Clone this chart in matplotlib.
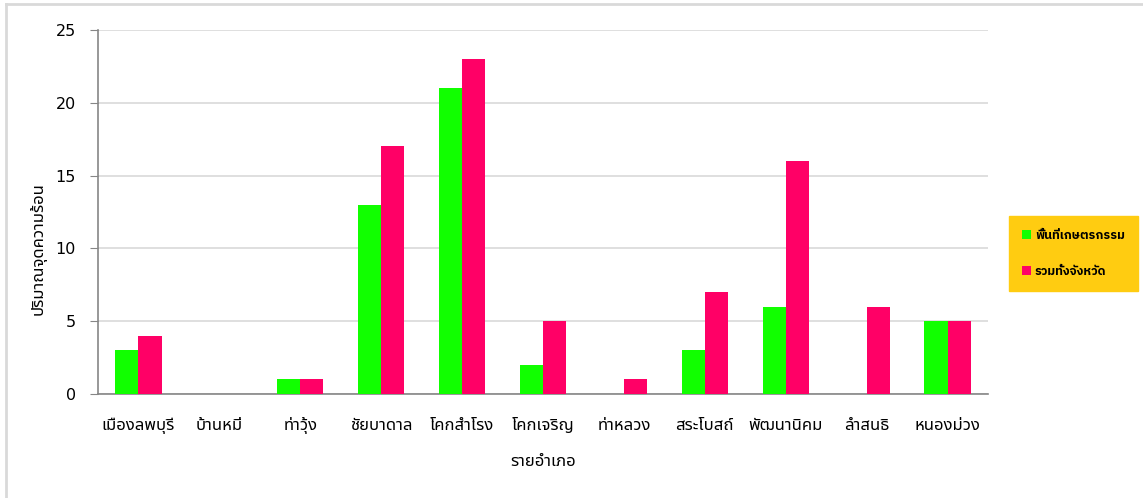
import matplotlib
matplotlib.use("Agg")
import matplotlib.pyplot as plt
import numpy as np
from matplotlib.lines import Line2D

plt.rcParams['font.family'] = ['DejaVu Sans', 'Noto Sans Thai']

districts = ["เมืองลพบุรี", "บ้านหมี่", "ท่าวุ้ง", "ชัยบาดาล", "โคกสำโรง", "โคกเจริญ",
             "ท่าหลวง", "สระโบสถ์", "พัฒนานิคม", "ลำสนธิ", "หนองม่วง"]
farm_area = [3, 0, 1, 13, 21, 2, 0, 3, 6, 0, 5]
province_total = [4, 0, 1, 17, 23, 5, 1, 7, 16, 6, 5]
series_names = ["พื้นที่เกษตรกรรม", "รวมทั้งจังหวัด"]
y_ticks = [0, 5, 10, 15, 20, 25]

green = "#11FF00"
pink = "#FF0066"

fig = plt.figure(figsize=(11.43, 4.98), dpi=100)
W, H = 1143, 498

# outer frame of the chart area (top and left edges fall inside the image)
frame_color = "#D9D9D9"
fig.add_artist(Line2D([5.5 / W, 5.5 / W], [0, (H - 4.5) / H], transform=fig.transFigure,
                      color=frame_color, linewidth=2))
fig.add_artist(Line2D([5.5 / W, 1], [(H - 4.5) / H, (H - 4.5) / H], transform=fig.transFigure,
                      color=frame_color, linewidth=2))

ax = fig.add_axes([98 / W, (H - 394) / H, (988 - 98) / W, (394 - 30) / H])

x = np.arange(len(districts))
bw = 0.285
ax.bar(x - bw / 2, farm_area, bw, color=green, label=series_names[0], zorder=3)
ax.bar(x + bw / 2, province_total, bw, color=pink, label=series_names[1], zorder=3)

ax.set_xlim(-0.5, len(districts) - 0.5)
ax.set_ylim(0, 25)
ax.set_yticks(y_ticks)
ax.yaxis.grid(True, color="#D9D9D9", linewidth=1.2, zorder=0)
ax.set_axisbelow(True)

for s in ["top", "right"]:
    ax.spines[s].set_visible(False)
for s in ["left", "bottom"]:
    ax.spines[s].set_color("#868686")
    ax.spines[s].set_linewidth(1.2)

ax.set_xticks(x)
ax.set_xticklabels(districts, fontsize=12)
ax.tick_params(axis="x", length=0, pad=15.5)
ax.tick_params(axis="y", length=6, color="#868686", labelsize=11.5, pad=10)

ax.set_xlabel("รายอำเภอ", fontsize=12, labelpad=13)
ax.set_ylabel("ปริมาณจุดความร้อน", fontsize=12)
ax.yaxis.set_label_coords(-0.058, 0.40)

leg = fig.legend(loc="upper left", bbox_to_anchor=(1009 / W, (H - 216) / H),
                 frameon=True, fancybox=False, framealpha=1,
                 prop={"family": ["IBM Plex Sans Thai", "Noto Sans Thai"],
                       "weight": "bold", "size": 8.9},
                 handlelength=0.75, handleheight=0.75, handletextpad=0.3,
                 labelspacing=1.85, borderpad=1.05, borderaxespad=0)
frame = leg.get_frame()
frame.set_facecolor("#FFCC11")
frame.set_edgecolor("#FFCC11")

fig.savefig("out.png", dpi=100)
